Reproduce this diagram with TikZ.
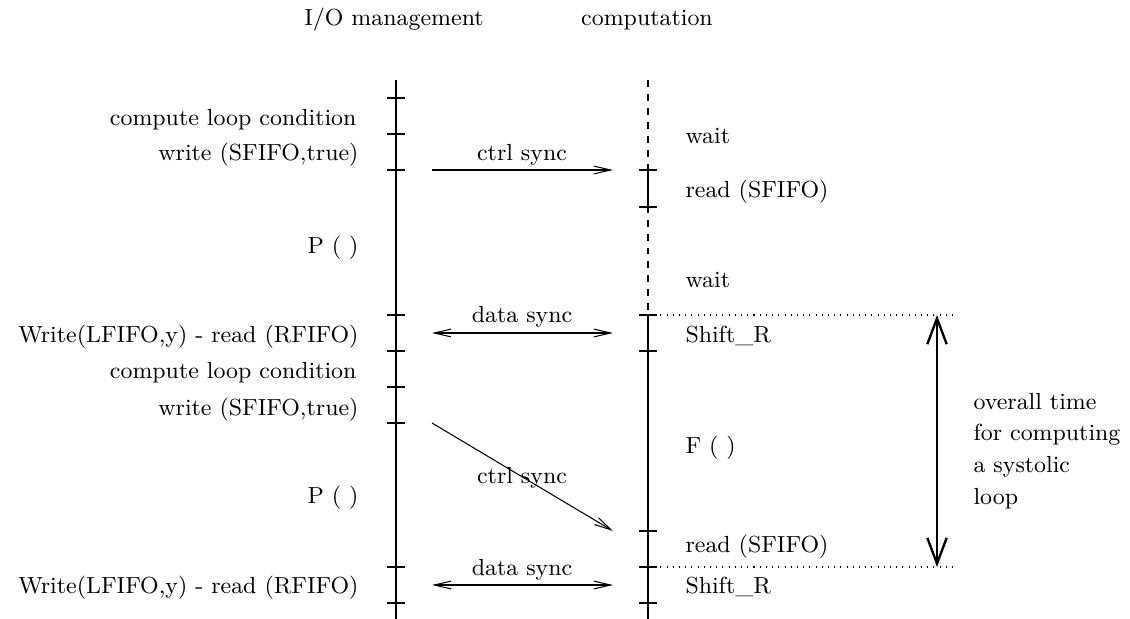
\documentclass[tikz,border=0pt]{standalone}
\usetikzlibrary{arrows.meta}
\tikzset{
  sync/.style={line width=0.4pt, -{Straight Barb[length=6.5pt,width=3pt]}},
  syncboth/.style={line width=0.4pt, {Straight Barb[length=6.5pt,width=3pt]}-{Straight Barb[length=6.5pt,width=3pt]}},
  lbl/.style={inner sep=0pt, anchor=base east},
  rlbl/.style={inner sep=0pt, anchor=base west},
  mid/.style={inner sep=0pt, anchor=base}
}

\begin{document}
\begin{tikzpicture}[x=0.0136cm, y=-0.0136cm, line width=0.4pt, font=\fontsize{9}{11}\selectfont]
			%%%%% START %%%%%
			\useasboundingbox (0,0) rectangle (1130,619);

			% headers
			\node[mid] (io) at (394,25) {I/O management};
			\node[mid] (comp) at (647,25) {computation};

			% time lines
			\draw (396,80) -- (396,619);
			\draw[dash pattern=on 2.7pt off 2.7pt] (648,80) -- (648,315);
			\draw (648,170) -- (648,207);
			\draw (648,315) -- (648,619);
			\foreach \y in {98,134,170,315,351,387,423,567,603}
				\draw (387,\y) -- (405,\y);
			\foreach \y in {170,207,315,351,531,567,603}
				\draw (639,\y) -- (657,\y);
			\draw[dotted] (648,315) -- (957,315);
			\draw[dotted] (648,567) -- (957,567);

			% I/O side
			\node[lbl] (cond1) at (357,125) {compute loop condition};
			\node[lbl] (wr1) at (359,160) {write (SFIFO,true)};
			\node[lbl] (p1) at (359,253) {P ( )};
			\node[lbl] (wl1) at (359,342) {Write(LFIFO,y) - read (RFIFO)};
			\node[lbl] (cond2) at (357,378) {compute loop condition};
			\node[lbl] (wr2) at (359,415) {write (SFIFO,true)};
			\node[lbl] (p2) at (359,503) {P ( )};
			\node[lbl] (wl2) at (359,593) {Write(LFIFO,y) - read (RFIFO)};

			% computation side
			\node[rlbl] (wait1) at (685,143) {wait};
			\node[rlbl] (rd1) at (685,197) {read (SFIFO)};
			\node[rlbl] (wait2) at (685,287) {wait};
			\node[rlbl] (sh1) at (685,342) {Shift\_R};
			\node[rlbl] (f) at (685,453) {F ( )};
			\node[rlbl] (rd2) at (685,552) {read (SFIFO)};
			\node[rlbl] (sh2) at (685,593) {Shift\_R};

			% sync arrows
			\coordinate (cs1a) at (432,170);
			\coordinate (cs1b) at (613,170);
			\coordinate (ds1a) at (432,333);
			\coordinate (ds1b) at (613,333);
			\coordinate (cs2a) at (432,423);
			\coordinate (cs2b) at (613,531);
			\coordinate (ds2a) at (432,585);
			\coordinate (ds2b) at (613,585);
			\draw[sync] (cs1a) -- (cs1b);
			\draw[syncboth] (ds1a) -- (ds1b);
			\draw[sync] (cs2a) -- (cs2b);
			\draw[syncboth] (ds2a) -- (ds2b);
			\node[mid] (cs1) at (522,160) {ctrl sync};
			\node[mid] (ds1) at (522,322) {data sync};
			\node[mid] (cs2) at (522,483) {ctrl sync};
			\node[mid] (ds2) at (522,575) {data sync};

			% loop time
			\coordinate (lpa) at (937,315);
			\coordinate (lpb) at (937,567);
			\draw[line width=0.9pt, {Straight Barb[length=10pt,width=7.5pt]}-{Straight Barb[length=10pt,width=7.5pt]}] (lpa) -- (lpb);
			\node[inner sep=0pt, anchor=west, align=left, font=\fontsize{9}{12.3}\selectfont] (ovl) at (973,451) {overall time\\for computing\\a systolic\\loop};

			%%%%% END %%%%%
		\end{tikzpicture}
\end{document}
